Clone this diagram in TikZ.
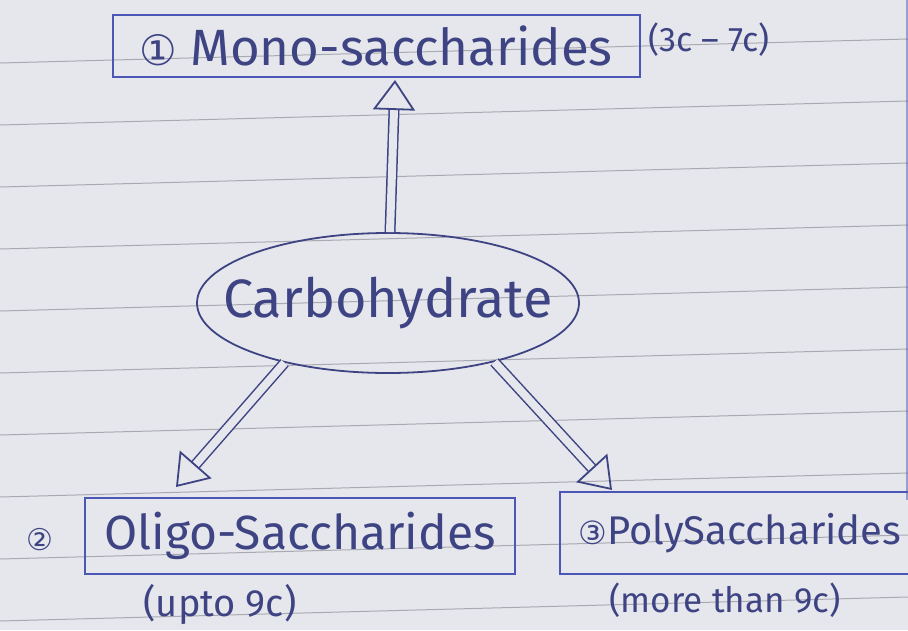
\documentclass[tikz,border=0pt]{standalone}
\usepackage{fontspec}
\setmainfont{Fira Sans}
\newfontfamily\symfont{DejaVu Sans}
\usetikzlibrary{arrows.meta,shapes.geometric}
\definecolor{paper}{HTML}{E6E7EC}
\definecolor{rule}{HTML}{80828C}
\definecolor{ink}{HTML}{3E4483}
\definecolor{boxink}{HTML}{4B56B5}
\tikzset{
  handtext/.style={text=ink},
  boxnode/.style={draw=boxink, line width=2pt, handtext, inner sep=2pt},
  ovalnode/.style={ellipse, draw=ink, line width=1.8pt, handtext, inner sep=0pt},
  fatarrow/.style={draw=ink, line width=1.5pt, double=paper, double distance=8pt,
    -{Triangle[open, length=30pt, width=42pt, line width=1.8pt]}},
  ruleline/.style={draw=rule, line width=1pt, opacity=0.6}
}
\begin{document}
\begin{tikzpicture}[x=1pt,y=-1pt]
\fill[paper] (0,0) rectangle (908,630);
\useasboundingbox (0,0) rectangle (908,630);
% ruled lines
\foreach \yy in {63,125,187,249,311,373,435,497,559,621}{
  \draw[ruleline] (0,\yy) -- (908,\yy-24);
}
\draw[draw=boxink, line width=1.5pt, opacity=0.5] (907,0) -- (907,500);
% nodes
\node[boxnode, minimum width=527pt, minimum height=62pt,
  font=\fontsize{51}{55}\selectfont] (mono) at (376,46)
  {{\symfont\fontsize{42}{46}\selectfont ①} Mono-saccharides};
\node[handtext, anchor=west, font=\fontsize{34}{38}\selectfont] (monoc) at (645,40) {(3c – 7c)};
\node[ovalnode, minimum width=382pt, minimum height=140pt,
  font=\fontsize{54}{58}\selectfont] (carb) at (388,303) {\makebox[0pt]{Carbohydrate}};
\node[boxnode, minimum width=430pt, minimum height=76pt,
  font=\fontsize{48}{52}\selectfont] (oligo) at (300,536) {Oligo-Saccharides};
\node[handtext, font=\symfont\fontsize{30}{34}\selectfont] (two) at (40,540) {②};
\node[boxnode, minimum width=360pt, minimum height=82pt,
  font=\fontsize{40}{44}\selectfont] (poly) at (740,533)
  {{\symfont\fontsize{32}{36}\selectfont ③}PolySaccharides};
\node[handtext, font=\fontsize{38}{42}\selectfont] (oligoc) at (220,604) {(upto 9c)};
\node[handtext, font=\fontsize{35}{39}\selectfont] (polyc) at (725,600) {(more than 9c)};
% arrows
\coordinate (upend) at (395,80);
\coordinate (lfend) at (176,487);
\coordinate (rtend) at (612,490);
\draw[fatarrow] (carb.north) ++(2,0) -- (upend);
\draw[fatarrow] (carb.-150) -- (lfend);
\draw[fatarrow] (carb.-29) -- (rtend);
\end{tikzpicture}
\end{document}
